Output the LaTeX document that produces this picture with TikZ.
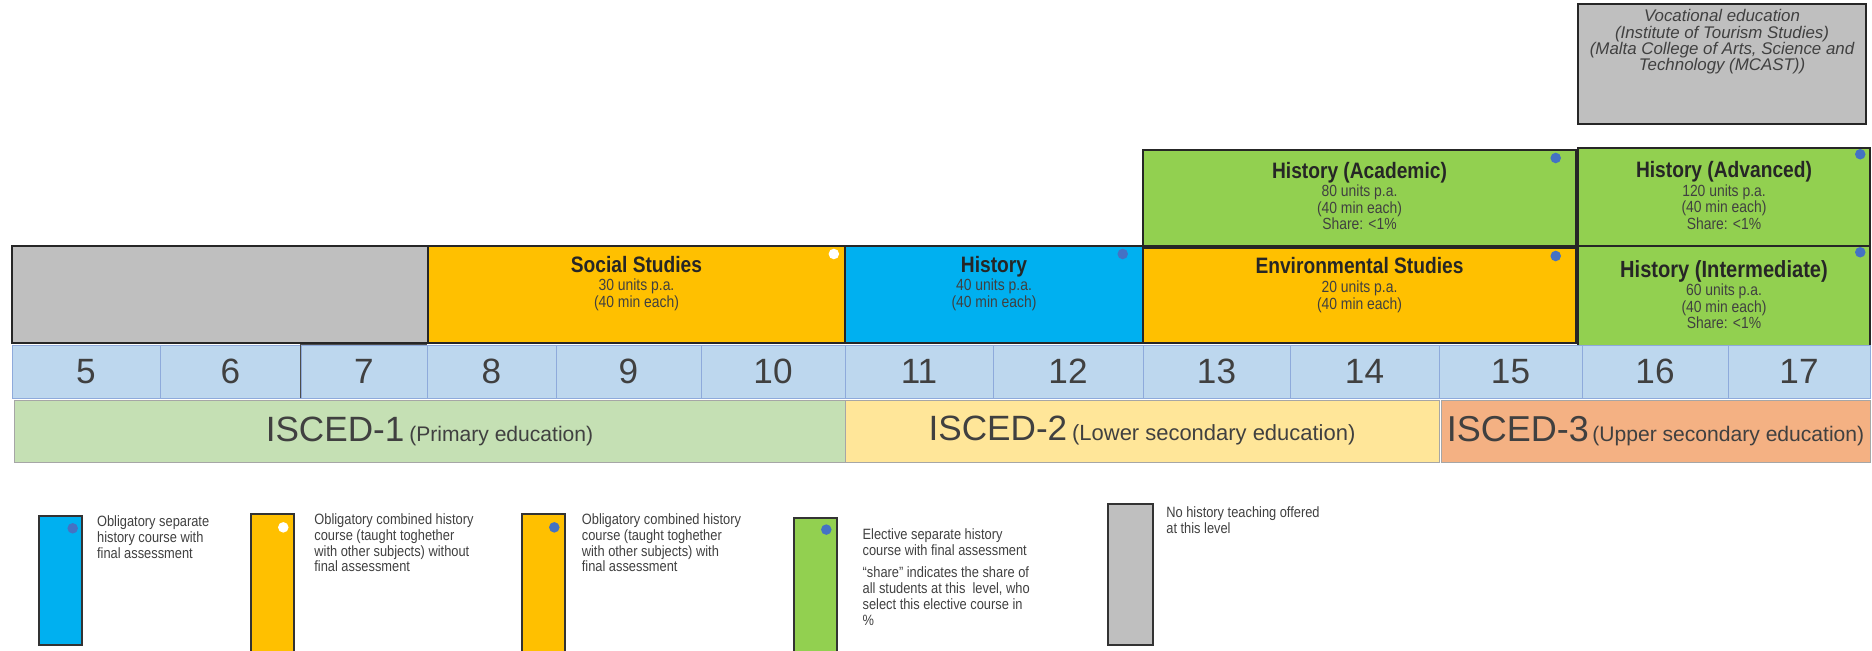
\documentclass[tikz,border=0pt]{standalone}
\usepackage{fontspec}
\setmainfont{Liberation Sans}
\newfontfamily\nfont{Liberation Sans}[FakeStretch=0.86]
\usepackage{tikz}
\usetikzlibrary{positioning,fit}
\definecolor{hblue}{HTML}{00B0F0}
\definecolor{hyel}{HTML}{FFC000}
\definecolor{hgreen}{HTML}{92D050}
\definecolor{hgrey}{HTML}{BFBFBF}
\definecolor{agefill}{HTML}{BDD7EE}
\definecolor{ageline}{HTML}{8EAADB}
\definecolor{lvlone}{HTML}{C5E0B4}
\definecolor{lvltwo}{HTML}{FFE699}
\definecolor{lvlthree}{HTML}{F4B183}
\definecolor{dotblue}{HTML}{4472C4}
\definecolor{txt}{HTML}{404040}
\newcommand{\subjname}[2][12.7]{{\fontsize{#1}{9.6}\selectfont\bfseries\color{black!85}#2}}
\tikzset{
  subj/.style={draw=black!85, line width=0.9pt, inner sep=0pt},
  stxt/.style={font=\nfont\fontsize{9.2}{9.5}\selectfont, text=txt, align=center, inner sep=0pt},
  vtxt/.style={font=\itshape\fontsize{9.6}{9.3}\selectfont, text=txt, align=center, inner sep=0pt},
  dot/.style={circle, fill=dotblue, inner sep=0pt, minimum size=6pt},
  cell/.style={draw=ageline, fill=agefill, inner sep=0pt},
  celltxt/.style={font=\fontsize{20}{20}\selectfont, text=txt, inner sep=0pt},
  lvl/.style={draw=gray!70, inner sep=0pt},
  lvltxt/.style={text=txt, inner sep=0pt},
  legbox/.style={draw=black!80, line width=0.8pt, inner sep=0pt},
  legtxt/.style={font=\nfont\fontsize{8.5}{9}\selectfont, text=txt, align=left, anchor=north west, inner sep=0pt}}
\begin{document}
\begin{tikzpicture}[x=0.02cm, y=-0.02cm]
  \useasboundingbox (0,0) rectangle (1872,651);
  % vocational track
  \node[subj, fill=hgrey, fit={(1578,4) (1866,124)}] (voc) {};
  \node[vtxt, below=3.5pt of voc.north] (voctxt) {Vocational education\\(Institute of Tourism Studies)\\(Malta College of Arts, Science and\\Technology (MCAST))};
  % subject boxes
  \node[subj, fill=hgreen, fit={(1143,150) (1576,246)}] (acad) {};
  \node[stxt, below=7pt of acad.north] (acadtxt) {\subjname{History (Academic)}\\[1pt]80 units p.a.\\(40 min each)\\Share: <1\%};
  \node[dot] (acaddot) at ([xshift=-12pt,yshift=-5pt]acad.north east) {};
  \node[subj, fill=hgreen, fit={(1578,148) (1870,246)}] (adv) {};
  \node[stxt, below=8pt of adv.north] (advtxt) {\subjname{History (Advanced)}\\[1pt]120 units p.a.\\(40 min each)\\Share: <1\%};
  \node[dot] (advdot) at ([xshift=-6pt,yshift=-4pt]adv.north east) {};
  \node[subj, fill=hgrey, fit={(12,246) (428,343)}] (nohist) {};
  \node[subj, fill=hyel, fit={(428,246) (845,343)}] (soc) {};
  \node[stxt, below=6pt of soc.north] (soctxt) {\subjname{Social Studies}\\[1pt]30 units p.a.\\(40 min each)};
  \node[dot, fill=white] (socdot) at ([xshift=-6.8pt,yshift=-5pt]soc.north east) {};
  \node[subj, fill=hblue, fit={(845,246) (1143,343)}] (hist) {};
  \node[stxt, below=6pt of hist.north] (histtxt) {\subjname{History}\\[1pt]40 units p.a.\\(40 min each)};
  \node[dot] (histdot) at ([xshift=-12pt,yshift=-5pt]hist.north east) {};
  \node[subj, fill=hyel, fit={(1143,248) (1576,343)}] (env) {};
  \node[stxt, below=5.8pt of env.north] (envtxt) {\subjname{Environmental Studies}\\[1pt]20 units p.a.\\(40 min each)};
  \node[dot] (envdot) at ([xshift=-12pt,yshift=-5pt]env.north east) {};
  \node[subj, fill=hgreen, fit={(1578,246) (1870,347)}] (inter) {};
  \node[stxt, below=8.3pt of inter.north] (intertxt) {\subjname[13.3]{History (Intermediate)}\\[1pt]60 units p.a.\\(40 min each)\\Share: <1\%};
  \node[dot] (interdot) at ([xshift=-6pt,yshift=-4pt]inter.north east) {};
  % ages
  \foreach \n/\l/\r in {5/12/160,6/160/301,7/301/427,8/427/556,9/556/701,10/701/845,11/845/993,12/993/1143,13/1143/1290,14/1290/1439,15/1439/1582,16/1582/1728,17/1728/1870}{
    \node[cell, fit={(\l,345) (\r,398)}] (age\n) {};
    \node[celltxt] (agelbl\n) at (age\n) {\n};}
  \draw[black!70] (age7.south west) -- (age7.north west) -- (age7.north east);
  % ISCED levels
  \node[lvl, fill=lvlone, fit={(14,400) (845,462)}] (isced1) {};
  \node[lvltxt] (isced1txt) at (isced1) {{\fontsize{20}{20}\selectfont ISCED-1} {\fontsize{12}{12}\selectfont (Primary education)}};
  \node[lvl, fill=lvltwo, fit={(845,400) (1439,462)}] (isced2) {};
  \node[lvltxt] (isced2txt) at (isced2) {{\fontsize{20}{20}\selectfont ISCED-2} {\fontsize{12.5}{12.5}\selectfont (Lower secondary education)}};
  \node[lvl, fill=lvlthree, fit={(1441,400) (1870,462)}] (isced3) {};
  \node[lvltxt] (isced3txt) at (isced3) {{\fontsize{20.5}{20.5}\selectfont ISCED-3}{\fontsize{12}{12}\selectfont\,(Upper secondary education)}};
  % legend
  \node[legbox, fill=hblue, fit={(39,516) (82,645)}] (lg1) {};
  \node[dot] (lg1dot) at ([xshift=-5.7pt,yshift=-7.4pt]lg1.north east) {};
  \node[legtxt] (lg1txt) at ([xshift=8pt]lg1.north east) {Obligatory separate\\history course with\\ final assessment};
  \node[legbox, fill=hyel, fit={(251,514) (294,655)}] (lg2) {};
  \node[dot, fill=white] (lg2dot) at ([xshift=-6.5pt,yshift=-8pt]lg2.north east) {};
  \node[legtxt] (lg2txt) at ([xshift=11pt]lg2.north east) {Obligatory combined history\\course (taught toghether\\with other subjects) without\\final assessment};
  \node[legbox, fill=hyel, fit={(522,514) (565,655)}] (lg3) {};
  \node[dot] (lg3dot) at ([xshift=-6.5pt,yshift=-8pt]lg3.north east) {};
  \node[legtxt] (lg3txt) at ([xshift=9pt]lg3.north east) {Obligatory combined history\\course (taught toghether\\with other subjects) with\\final assessment};
  \node[legbox, fill=hgreen, fit={(794,518) (837,655)}] (lg4) {};
  \node[dot] (lg4dot) at ([xshift=-6.5pt,yshift=-7pt]lg4.north east) {};
  \node[legtxt] (lg4txt) at ([xshift=14pt,yshift=-6.5pt]lg4.north east) {Elective separate history\\course with final assessment\\[3.5pt]“share” indicates the share of\\all students at this\ \ level, who\\select this elective course in\\\%};
  \node[legbox, fill=hgrey, fit={(1108,504) (1153,645)}] (lg5) {};
  \node[legtxt] (lg5txt) at ([xshift=7pt,yshift=-2pt]lg5.north east) {No history teaching offered\\at this level};
\end{tikzpicture}
\end{document}
